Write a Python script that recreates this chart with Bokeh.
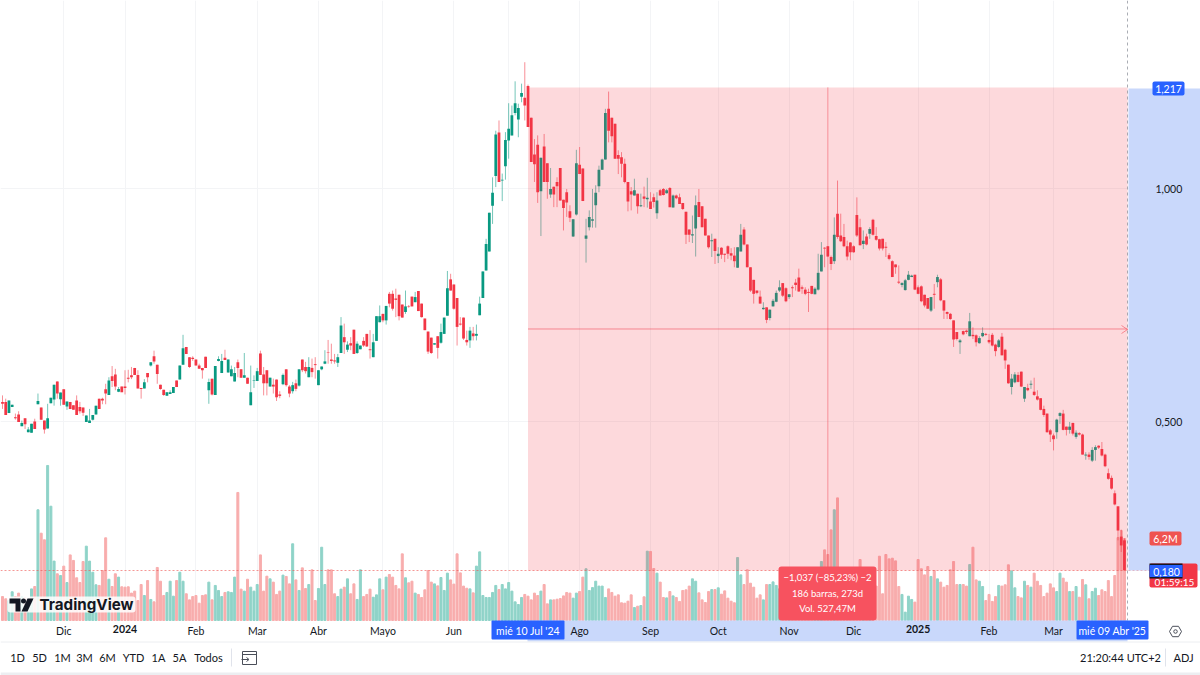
from bokeh.core.properties import value
from bokeh.embed import file_html
from bokeh.models import ColumnDataSource, FixedTicker, Grid, LinearAxis, Range1d
from bokeh.plotting import figure
from bokeh.resources import INLINE

opens = [
    .542, .542, .518, .531, .509, .515, .490, .507, .477, .476,
    .500, .537, .530, .502, .485, .539, .547, .586, .548, .569,
    .532, .542, .535, .545, .531, .530, .499, .497, .504, .515,
    .549, .549, .569, .557, .597, .601, .564, .575, .575, .594,
    .599, .615, .600, .572, .571, .604, .620, .640, .622, .579,
    .568, .555, .559, .561, .588, .590, .622, .660, .638, .637,
    .633, .620, .615, .639, .567, .592, .557, .630, .604, .637,
    .605, .597, .586, .627, .612, .594, .594, .535, .587, .587,
    .646, .601, .610, .575, .579, .590, .558, .580, .612, .575,
    .565, .582, .577, .633, .617, .595, .615, .623, .578, .612,
    .624, .648, .633, .631, .626, .647, .681, .654, .668, .697,
    .647, .655, .673, .688, .655, .638, .673, .713, .731, .717,
    .774, .774, .764, .772, .751, .735, .747, .768, .756, .780,
    .753, .721, .693, .680, .665, .683, .669, .688, .727, .805,
    .794, .765, .710, .723, .675, .674, .689, .684, .728, .765,
    .824, .865, .963, 1.027, 1.120, 1.017, 1.048, 1.103, 1.114, 1.162,
    1.148, 1.197, 1.195, 1.220, 1.152, 1.073, 1.094, .994, 1.090, 1.054,
    .987, 1.004, 1.014, 1.044, .976, .992, .951, .897, .944, 1.051,
    1.043, .892, .917, .931, .964, 1.005, 1.040, 1.062, 1.171, 1.152,
    1.139, 1.072, 1.067, 1.053, 1.014, .994, .985, .989, .962, .983,
    .977, .972, .981, .947, .996, .999, .990, 1.001, .959, .985,
    .981, .969, .950, .912, .899, .914, .971, .962, .935, .899,
    .887, .892, .855, .873, .860, .876, .861, .856, .830, .865,
    .912, .880, .831, .804, .781, .768, .741, .745, .722, .747,
    .757, .781, .797, .786, .767, .788, .798, .809, .788, .783,
    .778, .791, .773, .783, .822, .873, .876, .853, .844, .946,
    .899, .896, .876, .884, .876, .943, .917, .881, .897, .903,
    .933, .898, .891, .892, .875, .857, .844, .837, .800, .793,
    .782, .804, .810, .815, .788, .790, .772, .765, .738, .774,
    .799, .805, .760, .735, .731, .717, .692, .670, .694, .695,
    .683, .686, .685, .668, .683, .688, .675, .686, .665, .660,
    .682, .654, .622, .574, .584, .600, .607, .549, .572, .579,
    .564, .554, .550, .527, .517, .481, .470, .477, .512, .517,
    .489, .482, .497, .467, .475, .472, .427, .429, .416, .439,
    .448, .441, .429, .389, .379, .346, .318, .253, .245,
]
highs = [
    .556, .549, .545, .536, .517, .522, .502, .507, .488, .495,
    .506, .560, .530, .502, .538, .551, .579, .586, .562, .569,
    .543, .542, .535, .556, .542, .530, .513, .527, .514, .534,
    .549, .551, .581, .595, .619, .613, .574, .575, .610, .611,
    .617, .615, .610, .572, .591, .604, .627, .652, .622, .579,
    .568, .563, .567, .574, .588, .620, .686, .660, .638, .640,
    .633, .624, .615, .639, .592, .592, .619, .640, .645, .654,
    .633, .620, .617, .633, .612, .647, .594, .620, .599, .615,
    .652, .617, .610, .594, .592, .590, .565, .603, .612, .578,
    .585, .590, .612, .633, .628, .638, .635, .638, .610, .618,
    .653, .675, .667, .645, .645, .724, .710, .672, .681, .697,
    .672, .663, .681, .688, .696, .688, .726, .749, .731, .748,
    .778, .781, .785, .772, .751, .781, .750, .768, .778, .780,
    .753, .721, .693, .680, .668, .683, .710, .723, .823, .817,
    .794, .765, .724, .723, .695, .703, .703, .708, .768, .822,
    .892, .948, 1.024, 1.124, 1.146, 1.032, 1.121, 1.183, 1.178, 1.230,
    1.182, 1.225, 1.271, 1.223, 1.152, 1.106, 1.114, 1.066, 1.117, 1.054,
    1.044, 1.004, 1.024, 1.044, .976, .999, .964, .934, 1.083, 1.089,
    1.043, .935, .953, .999, 1.007, 1.049, 1.064, 1.171, 1.208, 1.152,
    1.139, 1.082, 1.078, 1.064, 1.014, 1.003, 1.021, .989, .989, 1.004,
    1.023, .992, .989, .992, .999, 1.001, .999, 1.003, .987, .987,
    .989, .969, .950, .912, .942, .985, .999, .962, .935, .899,
    .903, .892, .874, .874, .860, .878, .872, .874, .874, .924,
    .917, .880, .831, .804, .781, .781, .756, .745, .740, .763,
    .781, .803, .797, .788, .773, .792, .806, .828, .792, .788,
    .785, .791, .788, .860, .885, .874, .876, .856, .938, 1.017,
    .946, .924, .888, .885, .878, .981, .935, .910, .903, .917,
    .935, .917, .892, .892, .885, .861, .846, .837, .835, .799,
    .806, .823, .815, .815, .792, .792, .772, .765, .767, .795,
    .815, .808, .760, .736, .733, .717, .692, .677, .695, .697,
    .733, .702, .687, .683, .702, .690, .688, .690, .667, .677,
    .690, .656, .622, .602, .606, .606, .607, .574, .581, .588,
    .594, .567, .550, .534, .517, .484, .474, .506, .520, .525,
    .489, .499, .497, .481, .477, .474, .434, .434, .445, .449,
    .449, .456, .431, .399, .384, .352, .318, .268, .249,
]
lows = [
    .527, .514, .518, .531, .504, .499, .490, .484, .477, .476,
    .484, .537, .504, .474, .485, .539, .534, .549, .534, .536,
    .525, .527, .525, .514, .517, .512, .499, .497, .502, .515,
    .527, .537, .537, .557, .574, .567, .563, .563, .558, .584,
    .591, .600, .571, .549, .571, .584, .618, .624, .581, .568,
    .555, .555, .559, .561, .574, .590, .622, .645, .615, .630,
    .620, .613, .592, .615, .538, .556, .557, .629, .604, .632,
    .605, .597, .586, .595, .594, .594, .581, .535, .572, .587,
    .600, .556, .556, .575, .560, .544, .550, .578, .575, .552,
    .560, .565, .575, .606, .603, .595, .595, .592, .578, .610,
    .623, .624, .624, .624, .617, .647, .645, .649, .653, .645,
    .645, .655, .660, .660, .635, .638, .673, .713, .713, .708,
    .745, .738, .724, .717, .723, .731, .744, .747, .756, .737,
    .723, .696, .645, .645, .665, .635, .667, .688, .727, .781,
    .740, .663, .706, .675, .663, .658, .674, .674, .728, .765,
    .824, .865, .924, 1.003, 1.014, .973, 1.019, 1.064, 1.114, 1.157,
    1.110, 1.185, 1.146, 1.132, 1.057, 1.014, .969, .898, 1.014, .978,
    .980, .960, .960, .974, .910, .939, .928, .896, .942, 1.031,
    .973, .841, .910, .916, .916, .992, 1.040, 1.062, 1.099, 1.099,
    1.064, 1.031, 1.024, 1.011, .951, .953, .985, .946, .960, .960,
    .959, .956, .959, .935, .985, .985, .989, .960, .959, .977,
    .967, .954, .881, .885, .883, .854, .939, .917, .899, .871,
    .853, .838, .840, .849, .842, .849, .846, .831, .830, .865,
    .878, .831, .778, .753, .773, .753, .740, .711, .717, .747,
    .756, .778, .767, .756, .763, .767, .781, .778, .774, .771,
    .735, .773, .773, .781, .822, .831, .854, .825, .838, .892,
    .885, .874, .846, .846, .862, .896, .878, .870, .878, .892,
    .899, .888, .867, .867, .853, .846, .810, .817, .795, .788,
    .781, .803, .810, .782, .773, .756, .745, .742, .735, .742,
    .788, .758, .720, .720, .718, .660, .674, .645, .685, .688,
    .683, .677, .661, .667, .681, .684, .667, .661, .640, .658,
    .642, .613, .581, .558, .582, .584, .574, .542, .565, .570,
    .555, .545, .524, .510, .476, .456, .438, .463, .495, .481,
    .470, .474, .470, .463, .470, .429, .418, .418, .413, .416,
    .441, .425, .402, .375, .354, .320, .245, .220, .180,
]
closes = [
    .538, .514, .545, .536, .507, .499, .497, .494, .483, .495,
    .484, .544, .504, .483, .507, .551, .579, .560, .562, .536,
    .543, .527, .525, .514, .522, .519, .513, .502, .514, .534,
    .527, .545, .560, .588, .587, .575, .570, .563, .572, .592,
    .595, .600, .571, .570, .584, .595, .627, .629, .602, .570,
    .557, .563, .563, .574, .574, .620, .657, .645, .617, .634,
    .620, .613, .610, .615, .585, .558, .619, .634, .630, .632,
    .633, .612, .604, .615, .594, .599, .581, .563, .588, .608,
    .600, .582, .582, .594, .575, .552, .555, .600, .578, .560,
    .578, .570, .612, .610, .608, .617, .606, .621, .610, .618,
    .629, .647, .630, .629, .638, .706, .670, .665, .663, .645,
    .667, .663, .663, .661, .653, .670, .726, .726, .717, .748,
    .753, .742, .761, .726, .723, .747, .746, .747, .767, .737,
    .724, .696, .650, .647, .668, .658, .692, .723, .786, .781,
    .742, .703, .708, .678, .670, .695, .683, .688, .753, .822,
    .881, .948, .991, 1.116, 1.014, 1.019, 1.104, 1.128, 1.157, 1.183,
    1.173, 1.205, 1.178, 1.132, 1.057, 1.052, .992, 1.066, 1.014, 1.014,
    .999, .987, 1.005, .974, .958, .970, .937, .934, 1.054, 1.031,
    .973, .899, .939, .934, .991, 1.040, 1.062, 1.162, 1.124, 1.112,
    1.064, 1.064, 1.053, 1.014, .972, .987, .996, .962, .964, .978,
    .980, .956, .971, .974, .985, .986, .996, .960, .985, .979,
    .967, .956, .901, .901, .902, .964, .939, .917, .899, .874,
    .889, .866, .860, .858, .858, .860, .856, .844, .874, .901,
    .880, .831, .781, .774, .776, .753, .744, .718, .740, .759,
    .776, .788, .770, .758, .773, .786, .793, .779, .785, .774,
    .776, .774, .785, .819, .858, .871, .854, .838, .901, .896,
    .887, .876, .854, .863, .863, .899, .878, .888, .880, .913,
    .901, .890, .871, .871, .873, .849, .810, .831, .798, .797,
    .803, .815, .813, .783, .774, .758, .749, .742, .767, .772,
    .810, .760, .738, .731, .720, .676, .677, .674, .687, .692,
    .715, .683, .670, .679, .690, .686, .670, .663, .651, .674,
    .642, .631, .582, .592, .601, .585, .575, .574, .567, .581,
    .557, .547, .525, .514, .477, .472, .462, .504, .518, .482,
    .482, .489, .474, .476, .472, .429, .429, .424, .439, .445,
    .444, .427, .404, .377, .356, .322, .266, .234, .181,
]
volumes = [
    1.81, 1.64, 1.51, 2.17, 1.81, 2.07, 1.76, 1.71, 1.51, 2.39,
    2.57, 8.37, 6.60, 6.10, 11.72, 8.64, 4.49, 3.53, 3.40, 4.11,
    2.87, 4.96, 4.54, 3.23, 2.87, 4.46, 5.62, 4.49, 3.65, 2.70,
    2.65, 3.78, 6.25, 3.12, 2.57, 3.53, 3.28, 2.55, 2.52, 2.55,
    2.07, 2.22, 1.51, 2.72, 1.89, 3.02, 1.59, 1.41, 4.01, 2.97,
    1.89, 2.12, 2.97, 1.84, 3.02, 3.65, 2.97, 2.02, 1.56, 1.81,
    1.89, 1.31, 1.89, 1.94, 2.90, 1.56, 2.65, 2.27, 1.81, 2.12,
    2.17, 2.12, 3.28, 9.68, 2.37, 2.22, 3.12, 2.52, 2.22, 2.72,
    4.96, 2.22, 3.35, 3.15, 2.90, 1.97, 2.22, 3.43, 3.33, 2.77,
    5.80, 3.07, 2.27, 3.98, 2.42, 2.72, 3.83, 1.51, 2.42, 5.54,
    2.72, 3.83, 3.83, 2.02, 1.81, 2.37, 2.52, 3.15, 2.02, 2.77,
    1.59, 3.83, 1.81, 1.97, 2.37, 1.76, 1.94, 3.15, 2.32, 3.28,
    3.48, 3.28, 2.65, 2.39, 5.04, 3.23, 2.85, 2.97, 2.07, 1.97,
    1.74, 2.32, 3.78, 2.90, 2.77, 2.62, 3.25, 2.27, 3.58, 3.07,
    2.75, 5.04, 3.60, 2.60, 2.44, 2.39, 2.09, 4.11, 5.19, 1.89,
    1.74, 1.74, 2.12, 2.65, 2.34, 2.72, 2.39, 2.87, 2.22, 1.41,
    1.21, 1.74, 1.97, 1.84, 1.56, 2.07, 1.89, 2.22, 2.72, 1.26,
    1.56, 1.56, 1.61, 1.66, 1.86, 2.12, 2.07, 1.69, 2.07, 2.19,
    3.28, 3.91, 2.27, 2.49, 2.97, 2.60, 2.60, 1.74, 2.39, 2.12,
    1.84, 1.94, 1.34, 1.31, 1.46, 1.94, .98, 1.08, 1.13, 1.79,
    5.24, 5.22, 3.93, 3.58, 2.90, 1.74, 1.71, 2.19, 1.86, 1.74,
    1.44, 2.27, 2.32, 2.60, 3.15, 2.97, 2.09, 1.56, 1.36, 2.19,
    2.34, 2.34, 2.47, 1.99, 2.24, 1.69, 1.46, 1.34, 4.76, 3.45,
    2.72, 3.83, 2.82, 2.52, 1.69, 1.94, 1.56, 2.72, 2.72, 2.92,
    2.65, 2.4, 2.6, 2.2, 2.1, 2.5, 2.3, 2.8, 2.4, 2.2,
    2.6, 2.9, 2.7, 3.4, 4.46, 5.34, 4.99, 6.85, 8.37, 9.27,
    2.6, 2.8, 2.4, 2.7, 2.5, 2.9, 4.61, 2.6, 2.3, 2.5,
    2.4, 2.6, 4.86, 2.02, 4.99, 4.66, 4.71, 4.51, 2.57, 1.97,
    .63, 1.84, 1.59, 1.39, 4.61, 3.91, 3.45, 4.08, 3.33, 3.78,
    3.15, 2.90, 2.52, 2.65, 3.83, 4.46, 2.72, 2.72, 2.72, 2.60,
    4.23, 5.54, 3.07, 2.97, 2.57, 1.51, 1.97, 1.44, 1.81, 2.65,
    2.60, 2.70, 4.21, 3.75, 2.47, 1.81, 1.71, 2.97, 2.65, 2.52,
    3.58, 2.97, 2.65, 1.81, 2.07, 2.77, 2.47, 2.19, 3.58, 3.20,
    2.90, 2.19, 2.19, 2.57, 1.76, 3.10, 2.70, 1.64, 2.19, 2.44,
    1.89, 2.32, 2.19, 3.02, 1.81, 3.40, 6.27, 6.80, 6.20,
]
month_ticks = {19: "Dic", 60: "Feb", 79: "Mar", 98: "Abr", 118: "Mayo", 140: "Jun",
               179: "Ago", 201: "Sep", 222: "Oct", 244: "Nov", 264: "Dic", 306: "Feb", 326: "Mar"}
year_ticks = {38: "2024", 284: "2025"}
grid_ticks = [19, 38, 60, 79, 98, 118, 140, 157, 179, 201, 222, 244, 264, 284, 306, 326]
price_ticks = {1.0: "1,000", 0.5: "0,500"}
range_buttons = ["1D", "5D", "1M", "3M", "6M", "YTD", "1A", "5A", "Todos"]
entry_bar = 163
end_bar = 349
entry_price = 1.217
last_price = 0.18

GREEN = "#089981"
RED = "#f23645"
BAND = "#c9d8fb"
BLUE = "#2962ff"
FONT = "Lato"


def price_at(py):
    return 1 - (py - 188) / 466


idx = list(range(len(closes)))
colors = [GREEN if c >= o else RED for o, c in zip(opens, closes)]
source = ColumnDataSource(dict(
    x=idx, open=opens, high=highs, low=lows, close=closes, vol=volumes,
    top=[max(o, c) for o, c in zip(opens, closes)],
    bottom=[min(o, c) for o, c in zip(opens, closes)],
    color=colors,
    vol_color=["#8fd3c8" if c == GREEN else "#f8adad" for c in colors],
))

p = figure(
    width=1200, height=675,
    x_range=Range1d((0 - 2) / 3.224, (1200 - 2) / 3.224),
    y_range=Range1d(price_at(675), price_at(0)),
    x_axis_location=None, y_axis_location=None,
    min_border=0, toolbar_location=None, tools="",
    output_backend="svg", outline_line_color=None,
)
p.extra_x_ranges = {"px": Range1d(0, 1200)}
p.extra_y_ranges = {"vol": Range1d(-55 * 0.0756, 620 * 0.0756), "py": Range1d(675, 0)}
PAGE = dict(x_range_name="px", y_range_name="py")

p.grid.grid_line_color = None
p.add_layout(Grid(dimension=0, ticker=FixedTicker(ticks=grid_ticks), grid_line_color="#f3f4f6"))
p.add_layout(Grid(dimension=1, ticker=FixedTicker(ticks=list(price_ticks)), grid_line_color="#f3f4f6"))

# cover the grid under the panes
p.quad(left=[0, 1128], right=[1200, 1200], top=[620, 0], bottom=[675, 620],
       color="white", line_color=None, **PAGE)
p.quad(left=[0], right=[1200], top=[672], bottom=[675], color="#eceef1", line_color=None, **PAGE)

p.vbar(x="x", width=0.62, top="vol", bottom=0, color="vol_color", source=source, y_range_name="vol")
p.segment(x0="x", x1="x", y0="low", y1="high", color="color", line_width=0.8, line_alpha=0.7, source=source)
p.vbar(x="x", width=0.86, top="top", bottom="bottom", color="color", line_color=None, source=source)

# short position box
p.quad(left=[entry_bar], right=[end_bar], top=[entry_price], bottom=[last_price],
       fill_color=RED, fill_alpha=0.19, line_color=None)
mid_price = (entry_price + last_price) / 2
p.line(x=[entry_bar, end_bar], y=[mid_price, mid_price], color=RED, line_alpha=0.5, line_width=1)
p.line(x=[(entry_bar + end_bar) / 2] * 2, y=[last_price, entry_price], color=RED, line_alpha=0.45, line_width=1)
p.line(x=[1121, 1127, 1121], y=[325, 329, 333], color=RED, line_alpha=0.5, line_width=1, **PAGE)

# price line and crosshair
p.line(x=[0, 1150], y=[570, 570], color="#ef5350", line_alpha=0.6, line_width=1, line_dash=[2, 2], **PAGE)
p.line(x=[1127, 1127], y=[0, 620], color="#9598a1", line_alpha=0.8, line_width=1, line_dash=[3, 3], **PAGE)

# axis bands
p.quad(left=[1128], right=[1200], top=[88], bottom=[570], color=BAND, line_color=None, **PAGE)
p.quad(left=[527], right=[1127], top=[620], bottom=[641], color=BAND, line_color=None, **PAGE)
p.line(x=[0, 1200], y=[641.5, 641.5], color="#eceef1", line_width=1, **PAGE)

AXIS_STYLE = dict(
    axis_line_color=None, major_tick_line_color=None, minor_tick_line_color=None,
    major_tick_out=0, major_tick_in=0, major_label_standoff=4,
    major_label_text_font=FONT, major_label_text_font_size="10.5px", major_label_text_color="#131722",
)
x_axis = LinearAxis(ticker=FixedTicker(ticks=list(month_ticks)), major_label_overrides=month_ticks,
                    fixed_location=price_at(620), **AXIS_STYLE)
year_axis = LinearAxis(ticker=FixedTicker(ticks=list(year_ticks)), major_label_overrides=year_ticks,
                       fixed_location=price_at(620), major_label_text_font_style="bold", **AXIS_STYLE)
y_axis = LinearAxis(ticker=FixedTicker(ticks=list(price_ticks)), major_label_overrides=price_ticks,
                    fixed_location=(1151 - 2) / 3.224, **AXIS_STYLE)
p.add_layout(x_axis, "below")
p.add_layout(year_axis, "below")
p.add_layout(y_axis, "right")


def tag(left, right, top, bottom, color, radius=2, alpha=1.0):
    p.quad(left=[left], right=[right], top=[top], bottom=[bottom], fill_color=color, fill_alpha=alpha,
           line_color=None, border_radius=radius, **PAGE)


def note(x, y, text, color="white", size="10.5px", align="center", style="normal", font=FONT):
    p.text(x=[x], y=[y], text=[text], text_color=color, text_font=value(font), text_font_size=size,
           text_align=align, text_baseline="middle", text_font_style=style, **PAGE)


# price scale tags
tag(1152, 1184, 81, 95, BLUE)
note(1168, 88, "1,217")
tag(1149, 1181, 531, 545, "#ef5350")
note(1165, 538, "6,2M")
tag(1149, 1197, 563, 587, RED)
note(1174, 581, "01:59:15", size="10px")
tag(1149, 1182, 563, 578, "#131722", 0)
tag(1149, 1182, 564.5, 576.5, BLUE, 0)
note(1166, 571, "0,180")

# tooltip of the position
tag(778, 876, 566, 620, "#f7525f", 3)
note(827, 577, "\u22121,037 (\u221285,23%) \u22122", size="9.5px")
note(827, 593, "186 barras, 273d", size="9.5px")
note(827, 608, "Vol. 527,47M", size="9.5px")

# crosshair dates
tag(491, 564, 620, 639, BLUE, 1)
note(527.5, 630, "mi\u00e9 10 Jul '24")
tag(1076, 1148, 620, 639, BLUE, 1)
note(1112, 630, "mi\u00e9 09 Abr '25")

# logo
tag(7, 135, 596, 612, "white", 3, 0.85)
p.patch(x=[9, 20, 20, 15, 15, 9], y=[598, 598, 611, 611, 603, 603], color="#131722", line_color=None, **PAGE)
p.scatter(x=[23], y=[600.5], size=5, color="#131722", line_color=None, **PAGE)
p.patch(x=[27, 33, 27, 21], y=[598, 598, 611, 611], color="#131722", line_color=None, **PAGE)
note(39, 603.5, "TradingView", color="#131722", size="15.2px", align="left", style="bold", font="Inter")

# gear
p.scatter(x=[1175], y=[631], size=12, marker="hex", fill_color=None, line_color="#4a4e59", line_width=1, **PAGE)
p.scatter(x=[1175], y=[631], size=3.5, marker="circle", fill_color=None, line_color="#4a4e59", line_width=1, **PAGE)

# bottom toolbar
for x, label in zip([17, 39, 62, 84, 107, 133, 158, 179, 208], range_buttons):
    note(x, 657, label, color="#131722", size="11px")
p.line(x=[231, 231], y=[648, 666], color="#e0e3eb", **PAGE)
p.line(x=[242, 242, 256, 256, 242], y=[651, 664, 664, 651, 651], color="#4a4e59", line_width=1, **PAGE)
p.line(x=[242, 256], y=[654, 654], color="#4a4e59", line_width=1, **PAGE)
p.line(x=[241, 248], y=[659, 659], color="#4a4e59", line_width=1, **PAGE)
p.line(x=[246, 248.5, 246], y=[657, 659, 661], color="#4a4e59", line_width=1, **PAGE)
note(1120, 657, "21:20:44 UTC+2", color="#131722", size="11px")
p.line(x=[1165, 1165], y=[648, 666], color="#e0e3eb", **PAGE)
note(1183, 657, "ADJ", color="#131722", size="11px")

open("out.html", "w").write(file_html(p, INLINE))
